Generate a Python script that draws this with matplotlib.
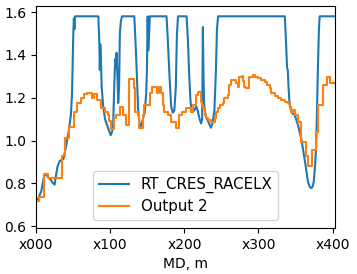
import matplotlib
matplotlib.use('Agg')
import matplotlib.pyplot as plt

# RT_CRES_RACELX
md_rt = [0, 3, 7, 10, 12, 15, 19, 22, 25, 27, 29, 32, 35, 37, 40, 44, 47, 48.5, 49.5, 50.3,
	51, 51.8, 52.5, 84, 85.3, 86, 86.6, 87.3, 88.5, 90.4, 93, 96, 98, 100.5, 102.5, 104,
	105.5, 106.8, 107.7, 108.6, 109.8, 110.8, 112, 113, 114.5, 116, 132.5, 134, 135.8,
	137.6, 139.9, 142, 144, 146.5, 148.5, 149.5, 150.5, 151.3, 152.5, 153.5, 176, 177.7,
	180, 182.2, 184.4, 186.5, 188.5, 190, 191.5, 203, 204.8, 206.5, 208, 209.5, 212, 214,
	216, 218, 220.6, 222.6, 224, 225, 225.8, 226.8, 229, 232, 235.7, 238, 240.5, 242.5,
	244, 245.5, 335.5, 337.3, 338.5, 339.5, 340.5, 342, 344.3, 346.5, 348.7, 351, 353.2,
	355.5, 357.6, 360, 362, 364.5, 366.6, 369, 371, 373, 374.6, 376.4, 377.7, 378.8, 380,
	381.5, 382.5, 403]
val_rt = [0.716, 0.73, 0.763, 0.82, 0.845, 0.835, 0.82, 0.805, 0.794, 0.84, 0.88, 0.905,
	0.91, 0.915, 0.965, 1.042, 1.12, 1.22, 1.38, 1.51, 1.57, 1.52, 1.58, 1.58, 1.46, 1.33,
	1.45, 1.40, 1.25, 1.166, 1.10, 1.07, 1.05, 1.025, 1.04, 1.08, 1.26, 1.38, 1.34, 1.41,
	1.30, 1.175, 1.25, 1.50, 1.56, 1.58, 1.58, 1.47, 1.32, 1.15, 1.065, 1.07, 1.10, 1.13,
	1.22, 1.32, 1.58, 1.42, 1.50, 1.58, 1.58, 1.47, 1.30, 1.16, 1.13, 1.14, 1.25, 1.50,
	1.58, 1.58, 1.47, 1.31, 1.20, 1.14, 1.135, 1.145, 1.16, 1.14, 1.10, 1.08, 1.10, 1.53,
	1.30, 1.16, 1.11, 1.09, 1.06, 1.08, 1.14, 1.32, 1.52, 1.58, 1.58, 1.445, 1.34, 1.33,
	1.25, 1.166, 1.135, 1.125, 1.12, 1.097, 1.073, 1.04, 1.011, 0.96, 0.918, 0.86, 0.81,
	0.785, 0.778, 0.785, 0.81, 0.887, 0.965, 1.12, 1.32, 1.52, 1.58, 1.58]

# Output 2 (step values)
md_out = [0, 3.4, 10.5, 16.7, 34.6, 39, 44.8, 50.6, 55.1, 60, 64.5, 69, 75.5, 78.5, 82,
	87.5, 93, 96.5, 98.5, 100.8, 105, 108.2, 113.5, 117, 121.6, 125.2, 132.7, 134, 137.2,
	139.4, 143.9, 146.1, 154.1, 156.4, 163.1, 165.3, 168.4, 170.6, 172.9, 177.3, 181.8,
	188.5, 193, 197.4, 202.8, 209.5, 211.7, 216.2, 218.4, 222, 223.8, 225.1, 227.3, 229.5,
	231.8, 236.2, 240.7, 243, 245.2, 248.7, 251.9, 254.1, 258.5, 260.8, 263, 269.7, 272,
	274.2, 277.3, 278.6, 280.8, 283, 286.6, 292, 295.1, 298.8, 303.2, 308.6, 310.8, 315.3,
	317.5, 322, 326.4, 330.9, 335.3, 339.8, 342, 343.4, 346.5, 348.7, 353.2, 357.6, 364.3,
	366.6, 372.4, 377.7, 380, 386.6, 392.4, 396.9, 403]
val_out = [0.716, 0.735, 0.844, 0.825, 0.930, 1.011, 1.065, 1.135, 1.174, 1.20, 1.216,
	1.220, 1.197, 1.218, 1.19, 1.15, 1.135, 1.12, 1.09, 1.056, 1.104, 1.120, 1.158, 1.120,
	1.073, 1.287, 1.244, 1.135, 1.120, 1.058, 1.12, 1.166, 1.220, 1.251, 1.220, 1.251,
	1.220, 1.166, 1.135, 1.120, 1.088, 1.058, 1.12, 1.135, 1.150, 1.135, 1.166, 1.213,
	1.225, 1.181, 1.166, 1.150, 1.12, 1.104, 1.096, 1.088, 1.104, 1.135, 1.150, 1.166,
	1.174, 1.197, 1.213, 1.259, 1.282, 1.267, 1.251, 1.298, 1.30, 1.278, 1.251, 1.244,
	1.298, 1.306, 1.298, 1.29, 1.282, 1.275, 1.259, 1.247, 1.22, 1.21, 1.197, 1.189,
	1.181, 1.174, 1.158, 1.135, 1.143, 1.12, 1.088, 0.995, 0.926, 0.879, 0.957, 1.042,
	1.166, 1.259, 1.298, 1.267, 1.267]

tick_pos = [0, 100, 200, 300, 400]
tick_lab = ['x000', 'x100', 'x200', 'x300', 'x400']

fig = plt.figure(figsize=(3.57, 2.74), dpi=100)
ax = fig.add_subplot(111)
fig.subplots_adjust(left=0.101, right=0.938, top=0.978, bottom=0.168)

ax.plot(md_rt, val_rt, color='tab:blue', label='RT_CRES_RACELX')
ax.plot(md_out, val_out, color='tab:orange', drawstyle='steps-post', label='Output 2')

ax.set_xlim(0, 403)
ax.set_ylim(0.592, 1.628)
ax.set_xticks(tick_pos)
ax.set_xticklabels(tick_lab)
ax.set_xlabel('MD, m')
ax.legend(loc='lower center', fontsize=10.8, labelspacing=0.4)

fig.savefig('out.png', dpi=100)
